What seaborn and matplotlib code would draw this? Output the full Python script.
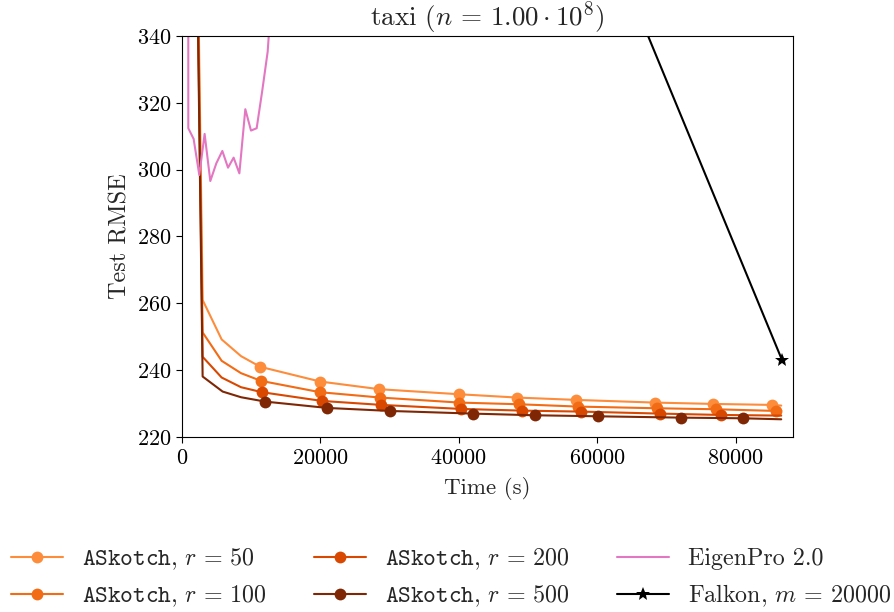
import numpy as np
import pandas as pd
import matplotlib
matplotlib.use("Agg")
import matplotlib.pyplot as plt
import seaborn as sns

# ---------------- data ----------------
t_r50 = [0, 2980, 5730, 8530, 11320, 19960, 28530, 40000, 48450, 56980, 68300, 76730, 85260, 86600]
v_r50 = [700, 261.0, 249.2, 244.2, 241.0, 236.6, 234.3, 232.8, 231.8, 231.1, 230.3, 229.9, 229.6, 229.4]
m_r50 = [4, 5, 6, 7, 8, 9, 10, 11, 12]

t_r100 = [0, 2980, 5730, 8530, 11420, 19960, 28680, 40100, 48680, 57270, 68630, 77120, 85800, 86600]
v_r100 = [700, 251.3, 242.8, 239.1, 236.8, 233.4, 231.8, 230.3, 229.8, 229.1, 228.6, 228.3, 227.8, 227.8]
m_r100 = [4, 5, 6, 7, 8, 9, 10, 11, 12]

t_r200 = [0, 2980, 5730, 8530, 11570, 20190, 28820, 40350, 49070, 57700, 69130, 77850, 86600]
v_r200 = [700, 244.0, 237.8, 234.9, 233.4, 230.8, 229.6, 228.4, 227.9, 227.6, 227.0, 226.6, 226.4]
m_r200 = [4, 5, 6, 7, 8, 9, 10, 11]

t_r500 = [0, 2980, 5870, 8530, 12000, 20970, 30020, 42030, 50990, 60100, 72060, 81070, 86600]
v_r500 = [700, 238.1, 233.6, 231.9, 230.6, 228.7, 227.8, 227.0, 226.5, 226.2, 225.8, 225.6, 225.3]
m_r500 = [4, 5, 6, 7, 8, 9, 10, 11]

t_eigenpro = [850, 911, 1680, 2500, 3270, 4090, 4960, 5830, 6650, 7460, 8290, 9150,
              9970, 10790, 11610, 12380, 13200]
v_eigenpro = [1500, 312.4, 309.2, 298.4, 310.7, 296.6, 301.9, 305.6, 300.6, 303.6, 298.9,
              318.1, 311.7, 312.4, 323.8, 335.3, 360]

t_falkon = [45000, 86710]
v_falkon = [452, 243.05]

askotch_labels = [r"$\mathtt{ASkotch}$, $r\,=\,50$", r"$\mathtt{ASkotch}$, $r\,=\,100$",
                  r"$\mathtt{ASkotch}$, $r\,=\,200$", r"$\mathtt{ASkotch}$, $r\,=\,500$"]
eigenpro_label = "EigenPro 2.0"
falkon_label = r"Falkon, $m\,=\,20000$"
title = r"taxi ($n\,=\,1.00 \cdot 10^8$)"
xlabel = "Time (s)"
ylabel = "Test RMSE"

# ---------------- style ----------------
sns.set_style("ticks")
plt.rcParams.update({
    "font.family": ["cmr10", "DejaVu Serif"],
    "mathtext.fontset": "cm",
    "axes.formatter.use_mathtext": True,
    "axes.unicode_minus": False,
    "font.size": 16,
    "axes.edgecolor": "black",
    "xtick.color": "black",
    "ytick.color": "black",
})

cmap = plt.get_cmap("Oranges")
colors = [cmap(0.5), cmap(0.62), cmap(0.75), cmap(1.0)]

fig = plt.figure(figsize=(8.95, 6.12), dpi=100)
ax = fig.add_axes([182 / 895, 1 - 437 / 612, (793 - 182) / 895, 401 / 612])

series = [(t_r50, v_r50, m_r50), (t_r100, v_r100, m_r100),
          (t_r200, v_r200, m_r200), (t_r500, v_r500, m_r500)]
for (t, v, m), c, lab in zip(series, colors, askotch_labels):
    df = pd.DataFrame({"t": t, "v": v})
    sns.lineplot(data=df, x="t", y="v", ax=ax, color=c, lw=1.5, marker="o",
                 markevery=m, markersize=8.5, markeredgewidth=0, label=lab,
                 sort=False, estimator=None)

df_ep = pd.DataFrame({"t": t_eigenpro, "v": v_eigenpro})
sns.lineplot(data=df_ep, x="t", y="v", ax=ax, color="#e377c2", lw=1.5,
             label=eigenpro_label, sort=False, estimator=None)

df_f = pd.DataFrame({"t": t_falkon, "v": v_falkon})
sns.lineplot(data=df_f, x="t", y="v", ax=ax, color="black", lw=1.5, marker="*",
             markersize=10, markeredgewidth=0, label=falkon_label,
             sort=False, estimator=None)

ax.set_xlim(0, 88300)
ax.set_ylim(220, 340)
ax.set_xticks([0, 20000, 40000, 60000, 80000])
ax.set_yticks([220, 240, 260, 280, 300, 320, 340])
ax.set_xlabel(xlabel, fontsize=16.5, labelpad=6)
ax.set_ylabel(ylabel, fontsize=17.5, labelpad=4)
ax.set_title(title, fontsize=19.5, pad=3)
ax.tick_params(labelsize=16, length=4, width=0.8, direction="out")
ax.tick_params(axis="x", pad=4.5)
for s in ax.spines.values():
    s.set_visible(True)
    s.set_linewidth(0.8)

handles, labels = ax.get_legend_handles_labels()
if ax.get_legend() is not None:
    ax.get_legend().remove()
fig.legend(handles, labels, loc="center", bbox_to_anchor=(451 / 895, 1 - 578 / 612),
           ncol=3, frameon=False, fontsize=17.3, handlelength=2.17, handletextpad=0.8,
           columnspacing=1.95, labelspacing=0.5, numpoints=1, borderpad=0)

fig.savefig("out.png", dpi=100)
